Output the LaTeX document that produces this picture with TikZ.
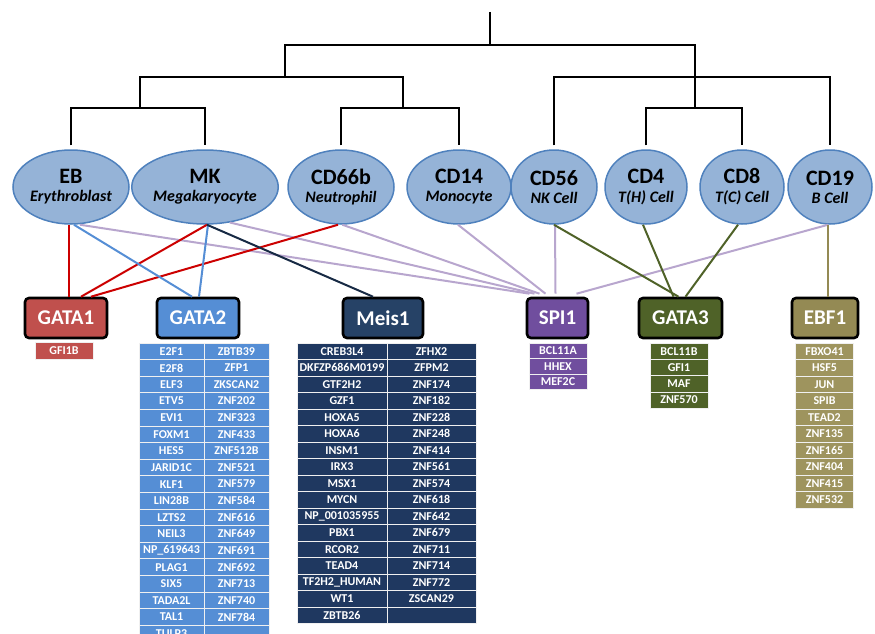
\documentclass[tikz,border=0pt]{standalone}
\usepackage{fontspec}
\setmainfont{Carlito}
\usetikzlibrary{shapes.geometric}

\definecolor{ellfill}{RGB}{149,179,215}
\definecolor{elldraw}{RGB}{79,129,189}
\definecolor{gataone}{RGB}{192,80,77}
\definecolor{gatatwo}{RGB}{85,142,213}
\definecolor{meisone}{RGB}{38,66,102}
\definecolor{meiscell}{RGB}{31,56,96}
\definecolor{spione}{RGB}{112,78,158}
\definecolor{gatathree}{RGB}{79,98,40}
\definecolor{ebfone}{RGB}{148,138,84}
\definecolor{ebfcell}{RGB}{158,148,94}
\definecolor{lavender}{RGB}{184,166,206}
\definecolor{redline}{RGB}{204,0,0}
\definecolor{navyline}{RGB}{23,42,68}

\newcommand{\celltype}[2]{{\fontsize{22}{22}\selectfont\bfseries #1}\\[6pt]{\fontsize{16}{16}\selectfont\bfseries\itshape #2}}

\tikzset{
  tree/.style={line width=2.6pt},
  popul/.style={ellipse, draw=elldraw, line width=1.5pt, fill=ellfill, align=center, inner sep=0, minimum height=74pt},
  tfbox/.style={draw=black, line width=2.6pt, rounded corners=4pt, text=white, minimum height=40pt, inner sep=0,
    font=\fontsize{21}{21}\selectfont\bfseries},
  cell/.style={draw=white!88!gray, line width=0.9pt, text=white, minimum height=16.5pt, inner sep=0,
    font=\fontsize{12}{12}\selectfont\bfseries},
  link/.style={line width=2pt}
}

\begin{document}
\begin{tikzpicture}[x=1pt,y=-1pt]
\useasboundingbox (0,0) rectangle (875,634);

\node[popul, minimum width=116pt] (eb) at (71,187) {\celltype{EB}{Erythroblast}};
\node[popul, minimum width=130pt] (mk) at (205,187) {\celltype{MK}{Megakaryocyte}};
\node[popul, minimum width=106pt] (cd66b) at (341,187) {\celltype{CD66b}{Neutrophil}};
\node[popul, minimum width=104pt] (cd14) at (459,187) {\celltype{CD14}{Monocyte}};
\node[popul, minimum width=86pt] (cd56) at (554,187) {\celltype{CD56}{NK Cell}};
\node[popul, minimum width=82pt] (cd4) at (646,187) {\celltype{CD4}{T(H) Cell}};
\node[popul, minimum width=84pt] (cd8) at (742,187) {\celltype{CD8}{T(C) Cell}};
\node[popul, minimum width=84pt] (cd19) at (830,187) {\celltype{CD19}{B Cell}};

\coordinate (top) at (490,12);
\coordinate (root) at (490,45);
\coordinate (myelo) at (285,77);
\coordinate (lympho) at (695,77);
\coordinate (ebmk) at (140,108);
\coordinate (neumono) at (403,108);
\coordinate (tcells) at (695,108);
\draw[tree] (top) -- (root);
\draw[tree] (myelo) |- (root) -| (tcells);
\draw[tree] (ebmk) |- (myelo) -| (neumono);
\draw[tree] ([yshift=4pt]cd56.north) |- (lympho) -| ([yshift=4pt]cd19.north);
\draw[tree] ([yshift=4pt]eb.north) |- (ebmk) -| ([yshift=4pt]mk.north);
\draw[tree] ([yshift=4pt]cd66b.north) |- (neumono) -| ([yshift=4pt]cd14.north);
\draw[tree] ([yshift=4pt]cd4.north) |- (tcells) -| ([yshift=4pt]cd8.north);

\node[tfbox, fill=gataone, minimum width=82pt] (gata1) at (66,318) {GATA1};
\node[tfbox, fill=gatatwo, minimum width=82pt] (gata2) at (198,318) {GATA2};
\node[tfbox, fill=meisone, minimum width=80pt] (meis1) at (383,318) {Meis1};
\node[tfbox, fill=spione, minimum width=61pt] (spi1) at (557.5,318) {SPI1};
\node[tfbox, fill=gatathree, minimum width=83pt] (gata3) at (680.5,318) {GATA3};
\node[tfbox, fill=ebfone, minimum width=66pt] (ebf1) at (825,318) {EBF1};

\draw[link, lavender] ([xshift=9pt]eb.south) -- ([xshift=-28pt,yshift=3pt]spi1.north);
\draw[link, lavender] (mk.-55) -- ([xshift=-23pt,yshift=3pt]spi1.north);
\draw[link, lavender] (cd66b.-88) -- ([xshift=-18pt,yshift=3pt]spi1.north);
\draw[link, lavender] ([xshift=-1pt]cd14.south) -- ([xshift=-12pt,yshift=3pt]spi1.north);
\draw[link, lavender] ([xshift=1pt]cd56.south) -- ([xshift=-2pt,yshift=3pt]spi1.north);
\draw[link, lavender] ([xshift=-2pt]cd19.south) -- ([xshift=19pt,yshift=3pt]spi1.north);
\draw[link, redline] ([xshift=-2pt]eb.south) -- ([xshift=3pt]gata1.north);
\draw[link, redline] ([xshift=2pt]mk.south) -- ([xshift=15pt]gata1.north);
\draw[link, redline] ([xshift=-3pt]cd66b.south) -- ([xshift=25pt]gata1.north);
\draw[link, gatatwo] ([xshift=3pt]eb.south) -- ([xshift=-6pt]gata2.north);
\draw[link, gatatwo] ([xshift=3pt]mk.south) -- ([xshift=1pt]gata2.north);
\draw[link, navyline] ([xshift=2pt]mk.south) -- ([xshift=-10pt]meis1.north);
\draw[link, gatathree] (cd56.south) -- ([xshift=-2pt]gata3.north);
\draw[link, gatathree] ([xshift=-3pt]cd4.south) -- ([xshift=-7pt]gata3.north);
\draw[link, gatathree] ([xshift=-4pt]cd8.south) -- ([xshift=5pt]gata3.north);
\draw[link, ebfone] ([xshift=-2pt]cd19.south) -- ([xshift=3pt]ebf1.north);

\node[cell, fill=gataone, minimum width=58pt] (gfi1b) at (64,351) {GFI1B};

\foreach \g [count=\i from 0] in {E2F1,E2F8,ELF3,ETV5,EVI1,FOXM1,HES5,JARID1C,KLF1,LIN28B,LZTS2,NEIL3,NP\_619643,PLAG1,SIX5,TADA2L,TAL1,TULP3}
  \node[cell, fill=gatatwo, minimum width=65pt] (gtwoa\i) at (171.5,{351.3+16.6*\i}) {\g};
\foreach \g [count=\i from 0] in {ZBTB39,ZFP1,ZKSCAN2,ZNF202,ZNF323,ZNF433,ZNF512B,ZNF521,ZNF579,ZNF584,ZNF616,ZNF649,ZNF691,ZNF692,ZNF713,ZNF740,ZNF784,{}}
  \node[cell, fill=gatatwo, minimum width=65pt] (gtwob\i) at (236.5,{351.3+16.6*\i}) {\g};

\foreach \g [count=\i from 0] in {CREB3L4,DKFZP686M0199,GTF2H2,GZF1,HOXA5,HOXA6,INSM1,IRX3,MSX1,MYCN,NP\_001035955,PBX1,RCOR2,TEAD4,TF2H2\_HUMAN,WT1,ZBTB26}
  \node[cell, fill=meiscell, minimum width=90pt] (meisa\i) at (342,{351.3+16.5*\i}) {\g};
\foreach \g [count=\i from 0] in {ZFHX2,ZFPM2,ZNF174,ZNF182,ZNF228,ZNF248,ZNF414,ZNF561,ZNF574,ZNF618,ZNF642,ZNF679,ZNF711,ZNF714,ZNF772,ZSCAN29,{}}
  \node[cell, fill=meiscell, minimum width=89pt] (meisb\i) at (431.5,{351.3+16.5*\i}) {\g};

\foreach \g [count=\i from 0] in {BCL11A,HHEX,MEF2C}
  \node[cell, fill=spione, minimum width=58pt, minimum height=15.5pt] (spia\i) at (558,{350.8+15.5*\i}) {\g};
\foreach \g [count=\i from 0] in {BCL11B,GFI1,MAF,ZNF570}
  \node[cell, fill=gatathree, minimum width=58pt, minimum height=16.3pt] (gthreea\i) at (679,{351.2+16.3*\i}) {\g};
\foreach \g [count=\i from 0] in {FBXO41,HSF5,JUN,SPIB,TEAD2,ZNF135,ZNF165,ZNF404,ZNF415,ZNF532}
  \node[cell, fill=ebfcell, minimum width=58pt] (ebfa\i) at (824.5,{351.3+16.5*\i}) {\g};
\end{tikzpicture}
\end{document}
